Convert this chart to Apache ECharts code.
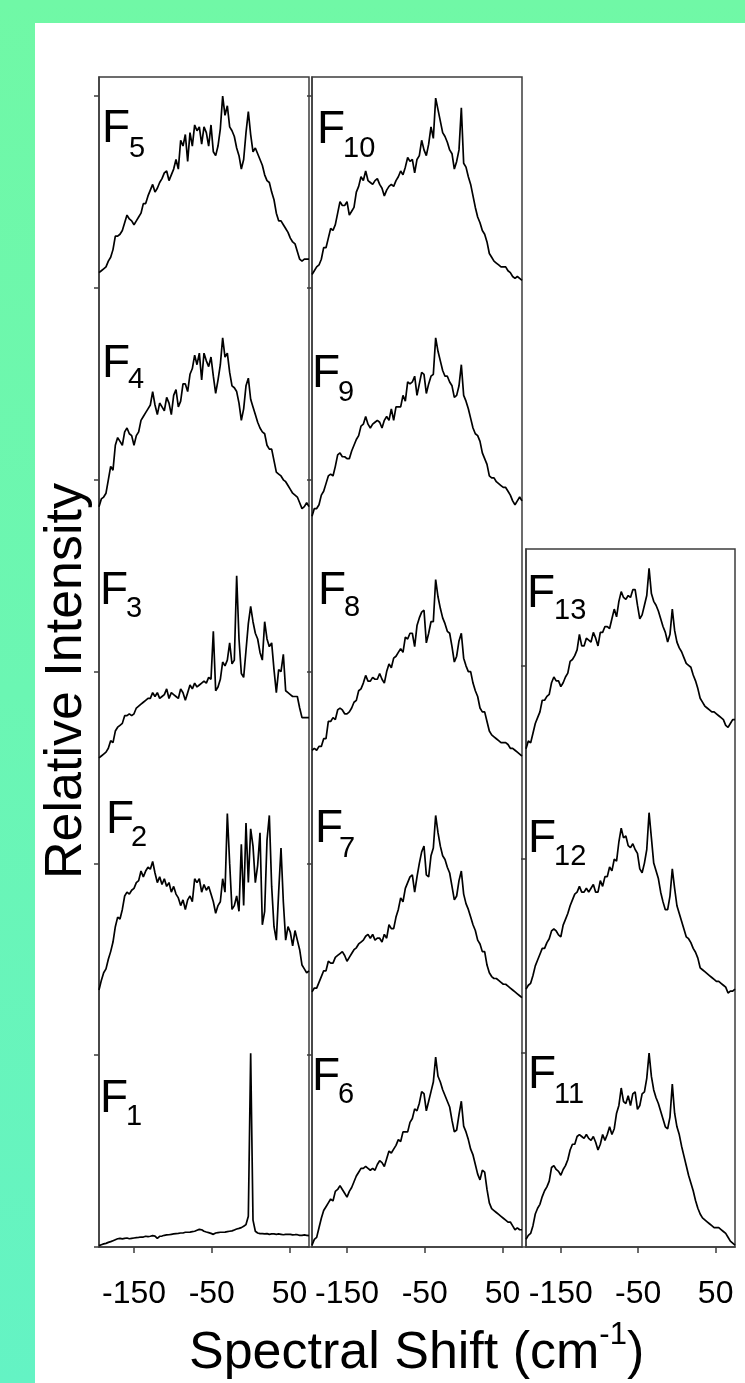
<!DOCTYPE html>
<html>
<head>
<meta charset="utf-8">
<title>Spectral Shift</title>
<script src="https://cdn.jsdelivr.net/npm/echarts@6/dist/echarts.min.js"></script>
<style>
  html, body { margin: 0; padding: 0; }
  #wrap { position: relative; width: 745px; height: 1383px; overflow: hidden;
          background: linear-gradient(180deg, #70f8a6 0%, #6bf6b3 50%, #64f3c4 100%); }
  #paper { position: absolute; left: 35px; top: 23px; right: 0; bottom: 0; background: #ffffff; }
  #chart { position: absolute; left: 0; top: 0; width: 745px; height: 1383px; }
</style>
</head>
<body>
<div id="wrap"><div id="paper"></div><div id="chart"></div></div>
<script>
// Spectral shift grid (cm^-1), shared by every trace
const shift = [-195,-192,-189,-186,-183,-180,-177,-174,-171,-168,-165,-162,-159,-156,-153,-150,
  -147,-144,-141,-138,-135,-132,-129,-126,-123,-120,-117,-114,-111,-108,-105,-102,-99,-96,-93,-90,
  -87,-84,-81,-78,-75,-72,-69,-66,-63,-60,-57,-54,-51,-48,-45,-42,-39,-36,-33,-30,-27,-24,-21,-18,
  -15,-12,-9,-6,-3,0,3,6,9,12,15,18,21,24,27,30,33,36,39,42,45,48,51,54,57,60,63,66,69,72,75];

// Offset relative intensities (one tick = 100)
const F1 = [0.7,1.2,1.6,1.9,2.4,2.8,3.3,3.8,4.3,4.5, 4.2,4.5,4.7,4.3,4.5,4.7,4.9,5.0,5.2,5.2,
  5.6,5.4,5.6,5.9,5.7,4.5,5.6,5.7,6.1,6.3, 6.4,6.6,6.8,7.0,7.1,7.3,7.3,7.7,7.7,7.8,
  8.0,8.2,8.7,9.2,9.0,8.2,7.8,7.5,7.1,6.6, 7.3,7.5,7.7,7.7,7.8,8.0,8.2,8.4,8.9,9.4,
  9.7,10.1,10.8,11.7,16,101,14,8.2,7.3,7.0, 7.0,6.8,7.0,6.6,6.8,6.8,6.6,6.8,6.6,6.4,
  6.6,6.6,6.6,6.3,6.4,6.4,6.1,6.1,6.3,6.1,5.9];
const F2 = [134,139,143,145,150,154,159,167,172,171, 176,183,185,184,186,187,190,191,196,193,
  196,198,197,201,195,190,193,189,192,188, 190,185,188,184,182,178,181,176,181,183,
  180,192,190,192,185,189,186,188,184,180, 174,178,180,192,185,226,200,176,178,183,
  175,210,178,221,190,218,209,190,199,216, 168,175,212,225,188,167,160,185,208,180,
  160,167,164,157,165,160,155,147,145,143,144];
const F3 = [255,256,257,258,260,264,263,269,271,272, 273,277,277,278,277,278,281,282,283,284,
  285,286,286,289,287,289,286,287,288,291, 286,289,288,287,286,291,289,285,289,293,
  291,294,292,293,294,295,294,297,296,321, 290,292,296,305,303,306,315,304,306,350,
  317,299,297,311,325,334,326,320,317,310, 306,326,317,313,315,301,289,301,300,309,
  290,289,288,287,287,287,281,276,276,276,276];
const F4 = [386,390,391,393,400,407,405,418,422,420, 418,425,427,424,423,418,423,425,431,433,
  435,437,439,446,439,434,440,438,436,443, 440,434,444,447,438,441,450,450,446,455,
  458,465,460,466,452,466,462,459,464,454, 445,452,460,474,464,466,456,449,448,446,
  440,431,437,449,453,442,438,434,430,427, 425,424,418,416,416,410,404,403,402,400,
  399,397,395,393,392,391,388,385,386,388,386];
const F5 = [508,509,510,511,514,516,520,527,527,528, 530,534,538,536,535,533,535,537,539,544,
  544,548,551,554,550,552,555,557,560,561, 556,559,562,567,562,577,574,580,566,581,
  574,585,582,584,575,584,581,574,585,571, 569,574,583,600,590,595,584,582,579,573,
  569,562,567,581,592,580,571,573,570,567, 564,559,556,555,550,546,539,535,535,533,
  531,529,526,524,523,519,515,514,515,515,515];
const F6 = [1,4,5,10,15,19,21,23,25,24, 29,30,32,30,28,26,29,31,34,37,
  39,41,41,42,41,40,41,40,43,45, 44,42,46,50,49,51,53,56,55,60,
  60,60,65,67,72,71,75,81,80,71, 76,81,86,99,89,86,82,79,76,73,
  66,60,61,69,76,63,60,56,51,48, 43,38,35,40,39,30,23,20,19,18,
  17,16,15,14,13,13,11,9,10,9,9];
const F7 = [133,135,135,138,141,144,144,149,148,148, 151,152,153,154,152,149,151,153,155,156,
  158,159,160,162,163,161,163,160,161,161, 159,163,161,168,166,166,172,176,182,180,
  187,190,193,194,185,193,200,206,209,194, 193,204,208,225,216,209,204,202,198,195,
  188,181,183,191,196,184,179,176,172,168, 165,160,158,154,154,147,143,141,140,140,
  139,138,137,137,136,135,134,133,132,131,130];
const F8 = [259,260,259,261,261,265,265,274,274,276, 275,280,281,280,278,278,279,281,284,285,
  290,291,294,298,295,295,297,296,296,299, 296,294,300,304,302,307,308,310,312,310,
  318,317,320,320,313,324,328,331,332,315, 320,326,326,348,339,333,328,325,321,320,
  313,305,308,316,320,307,303,300,300,294, 290,287,281,279,279,274,269,267,266,265,
  264,263,263,263,262,260,260,259,258,257,256];
const F9 = [381,385,385,387,392,394,398,402,403,402, 407,413,414,412,412,411,411,415,418,421,
  423,428,429,433,429,427,429,430,431,430, 427,431,433,431,437,431,438,438,438,444,
  441,451,450,451,454,444,450,456,455,445, 450,454,455,474,467,462,457,454,454,451,
  449,443,444,449,460,444,441,437,432,427, 424,423,420,414,411,408,402,401,401,399,
  398,397,396,396,394,392,389,387,389,391,389];
const F10 = [507,509,511,512,515,521,521,526,531,530, 533,539,545,543,543,545,538,540,542,550,
  553,558,556,561,556,555,554,556,557,554, 552,548,551,553,554,553,556,558,561,559,
  563,568,566,567,560,567,569,577,572,569, 575,584,578,599,593,587,581,579,576,572,
  570,562,566,572,594,565,563,558,554,548, 542,537,534,530,528,524,518,516,514,513,
  512,511,511,511,509,508,506,505,506,505,504];
const F11 = [4,6,7,11,17,20,22,26,29,31, 34,41,42,40,39,37,40,42,45,50,
  53,53,57,58,57,56,58,56,55,57, 54,50,53,58,55,58,62,58,61,69,
  73,82,75,74,78,73,79,80,71,73, 79,80,87,100,88,81,77,74,70,66,
  62,61,67,84,69,62,58,52,47,42, 37,33,29,24,20,17,15,14,13,12,
  11,10,10,10,9,8,7,5,3,2,1];
const F12 = [133,135,136,140,145,148,151,154,154,157, 159,163,164,163,161,160,166,169,172,176,
  179,182,183,186,183,183,185,183,185,187, 183,183,189,186,191,191,196,194,200,199,
  209,216,211,212,207,206,208,205,203,195, 193,198,205,224,211,198,194,190,183,178,
  174,174,181,195,185,176,172,168,164,160, 159,157,154,152,149,144,143,142,141,140,
  139,138,137,137,136,135,134,131,132,132,133];
const F13 = [257,261,260,265,270,273,276,282,282,284, 285,291,294,292,292,289,291,294,296,302,
  303,305,308,316,310,310,314,313,312,317, 314,310,317,317,320,320,319,324,329,325,
  333,338,335,334,336,335,339,339,331,324, 326,331,336,350,337,333,331,328,324,320,
  317,312,316,329,318,312,309,307,304,301, 300,299,295,292,288,283,281,279,278,277,
  276,276,275,274,273,272,269,268,270,272,272];

// Axis ticks
const xTicks = [-150, -50, 50];
const xTickLabels = ['-150', '-50', '50'];
const yTicksTall = [0, 100, 200, 300, 400, 500, 600];
const yTicksShort = [0, 100, 200, 300];

// Which traces sit in which column
const columns = [
  { traces: [F1, F2, F3, F4, F5], yMax: 610, yTicks: yTicksTall },
  { traces: [F6, F7, F8, F9, F10], yMax: 610, yTicks: yTicksTall },
  { traces: [F11, F12, F13], yMax: 360, yTicks: yTicksShort }
];

// ---- layout ----
const FONT = '"Liberation Sans", Arial, Helvetica, sans-serif';
const FRAME = '#3c3c3c';
const boxes = [
  { left: 99, top: 77, width: 210, height: 1170 },
  { left: 312, top: 77, width: 210, height: 1170 },
  { left: 526, top: 549, width: 209, height: 698 }
];
// trace tags: main letter, subscript, letter position, subscript position
const tags = [
  ['F', '5', 102, 106, 129, 134], ['F', '4', 102, 341, 128, 365],
  ['F', '3', 100, 568, 126, 594], ['F', '2', 106, 797, 131, 823],
  ['F', '1', 100, 1076, 126, 1102],
  ['F', '10', 317, 107, 343, 134], ['F', '9', 312, 351, 338, 378],
  ['F', '8', 318, 568, 344, 593], ['F', '7', 315, 806, 339, 834],
  ['F', '6', 312, 1054, 338, 1080],
  ['F', '13', 527, 571, 554, 596], ['F', '12', 528, 816, 554, 842],
  ['F', '11', 528, 1052, 554, 1080]
];

const chart = echarts.init(document.getElementById('chart'), null, { renderer: 'canvas' });

const grid = [], xAxis = [], yAxis = [], series = [];
columns.forEach((col, g) => {
  grid.push(Object.assign({ show: true, borderColor: FRAME, borderWidth: 1.5,
    backgroundColor: 'transparent', containLabel: false }, boxes[g]));
  xAxis.push({
    type: 'value', gridIndex: g, min: -195, max: 75,
    axisLine: { show: true, onZero: false, lineStyle: { color: FRAME, width: 1.5 } },
    axisTick: { show: true, inside: false, length: 6, customValues: xTicks,
      lineStyle: { color: FRAME, width: 1.5 } },
    axisLabel: { show: true, customValues: xTicks, margin: 31, fontSize: 32,
      fontFamily: FONT, color: '#000',
      formatter: v => xTickLabels[xTicks.indexOf(v)] },
    splitLine: { show: false }
  });
  yAxis.push({
    type: 'value', gridIndex: g, min: 0, max: col.yMax,
    axisLine: { show: true, onZero: false, lineStyle: { color: FRAME, width: 1.5 } },
    axisTick: { show: true, inside: false, length: 5, customValues: col.yTicks,
      lineStyle: { color: FRAME, width: 1.5 } },
    axisLabel: { show: false, customValues: col.yTicks },
    splitLine: { show: false }
  });
  col.traces.forEach(vals => {
    series.push({
      type: 'line', xAxisIndex: g, yAxisIndex: g,
      data: shift.map((x, i) => [x, vals[i]]),
      showSymbol: false, symbol: 'none', silent: true, z: 3,
      lineStyle: { color: '#000', width: 1.7 }
    });
  });
});

const graphic = [];
tags.forEach(t => {
  graphic.push({ type: 'text', x: t[2], y: t[3], silent: true, z: 10,
    style: { text: t[0], fontSize: 46, fontFamily: FONT, fill: '#000', verticalAlign: 'top' } });
  graphic.push({ type: 'text', x: t[4], y: t[5], silent: true, z: 10,
    style: { text: t[1], fontSize: 29, fontFamily: FONT, fill: '#000', verticalAlign: 'top' } });
});
// axis titles
graphic.push({
  type: 'text', x: 67, y: 681, rotation: Math.PI / 2, silent: true, z: 10,
  style: { text: 'Relative Intensity', fontSize: 52, fontFamily: FONT, fill: '#000',
    align: 'center', verticalAlign: 'middle' }
});
graphic.push({
  type: 'text', x: 189, y: 1320, silent: true, z: 10,
  style: {
    text: '{a|Spectral Shift (cm}{b|-1}{a|)}', align: 'left', verticalAlign: 'top',
    fill: '#000', fontFamily: FONT,
    rich: {
      a: { fontSize: 52, lineHeight: 68, fontFamily: FONT, fill: '#000' },
      b: { fontSize: 31, lineHeight: 31, verticalAlign: 'top', fontFamily: FONT, fill: '#000' }
    }
  }
});

chart.setOption({
  animation: false,
  backgroundColor: 'transparent',
  grid, xAxis, yAxis, series, graphic
});
</script>
</body>
</html>
